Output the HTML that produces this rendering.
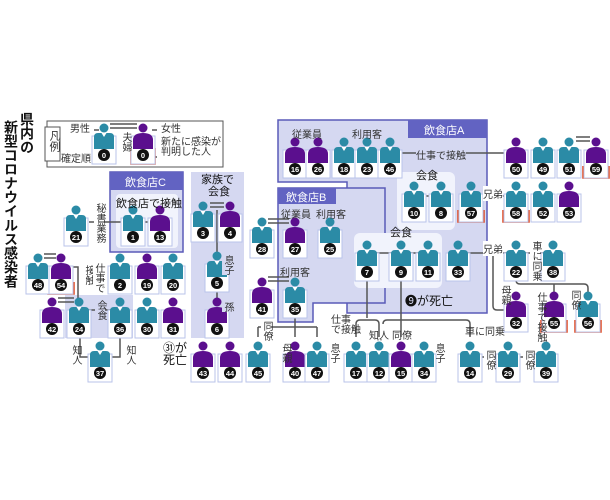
<!DOCTYPE html>
<html><head><meta charset="utf-8"><style>
body{margin:0;width:610px;height:500px;background:#fff;overflow:hidden;position:relative;font-family:"Liberation Sans","Noto Sans CJK JP",sans-serif;}
svg{position:absolute;left:0;top:0}
.v{position:absolute;writing-mode:vertical-rl;font-size:10px;line-height:10px;color:#333;background:transparent}
.t{position:absolute;font-size:10px;color:#333;white-space:nowrap}
.w{background:#fff}
.l{background:#d5d8f1}
</style></head><body>
<svg width="610" height="500" viewBox="0 0 610 500">
<defs>
<g id="m"><rect x="-12" y="8" width="24" height="28" fill="#fff" stroke="#b9c3ea"/><circle r="4.5" fill="#2b8ba6"/><path d="M-10 21V9Q-10 5-6 5H6Q10 5 10 9V21Z" fill="#2b8ba6"/><path d="M-2.5 5L0 9L2.5 5Z" fill="#fff"/><circle cy="27" r="6" fill="#111"/></g>
<g id="f"><rect x="-12" y="8" width="24" height="28" fill="#fff" stroke="#b9c3ea"/><circle r="4.5" fill="#5b0f8e"/><path d="M-10 21V12Q-10 5 0 5Q10 5 10 12V21Z" fill="#5b0f8e"/><circle cy="27" r="6" fill="#111"/></g>
</defs>
<rect x="47" y="121" width="176" height="46" fill="#fff" stroke="#555"/>
<rect x="45" y="127" width="15" height="34" fill="#fff" stroke="#555"/>
<polygon points="278,120 487,120 487,313 347,313 347,182 278,182" fill="#d5d8f1" stroke="#5a5ab8" stroke-width="1.5"/>
<polygon points="278,188 385,188 385,303 313,303 313,322 278,322" fill="#d5d8f1" stroke="#5a5ab8" stroke-width="1.5"/>
<rect x="408" y="120" width="79" height="18" fill="#6263c2"/>
<rect x="278" y="188" width="58" height="16" fill="#6263c2"/>
<rect x="397" y="172" width="58" height="58" rx="6" fill="#f1f3fc"/>
<rect x="354" y="233" width="88" height="55" rx="6" fill="#f1f3fc"/>
<rect x="110" y="172" width="73" height="80" fill="#d5d8f1" stroke="#5a5ab8" stroke-width="1.5"/>
<rect x="110" y="172" width="73" height="18" fill="#6263c2"/>
<rect x="116" y="194" width="62" height="54" rx="4" fill="#f1f3fc"/>
<rect x="191" y="172" width="53" height="166" fill="#d5d8f1"/>
<rect x="65" y="295" width="68" height="43" fill="#d5d8f1"/>
<g stroke="#555" stroke-width="1.5" fill="none">
<path d="M110 124H137M110 128H137"/>
<path d="M94 130H99M94 157H99M152 130H157M152 157H157"/>
<path d="M89 222H160"/>
<path d="M210 203H224M210 207H224M217 210V252M217 286V298"/>
<path d="M268 219H289M268 223H289M268 277H289M268 281H289"/>
<path d="M44 254H56M44 258H56M58 298H74M58 302H74"/>
<path d="M70 267H78V300M86 310H113"/>
<path d="M80 338V357H90M120 338V357H110"/>
<path d="M295 318V327M258 327H317M258 327V337M317 327V337M295 327V337"/>
<path d="M367 272V318M401 272V337M356 337V324Q356 320 360 320H375Q379 320 379 324V337M383 324Q383 320 387 320H466Q470 320 470 324V337"/>
<path d="M408 357H417M480 357H500M518 357H538"/>
<path d="M374 253H422M468 253H510M525 253H546"/>
<path d="M493 253V306Q493 310 497 310H508"/>
<path d="M516 275V280Q516 284 520 284H584Q588 284 588 288V292M554 284V292"/>
<path d="M421 196H434M478 196H510"/>
<path d="M398 153H510M576 137H590M576 141H590"/>
</g>
<path d="M378 339V343M381 339V343" stroke="#555" stroke-width="1" stroke-dasharray="1.5,1.5"/>
<g stroke="#e2481f" stroke-width="1.5" fill="none">
<path d="M131 148V164H155V148"/>
<path d="M583 166V178H609V166"/>
<path d="M458 210V222H484V210"/>
<path d="M503 210V222H529V210"/>
<path d="M48 282V294H74V282"/>
<path d="M541 320V332H567V320"/>
<path d="M575 320V332H601V320"/>
</g>
<g>
<use href="#m" x="104" y="128"/><use href="#f" x="143" y="128"/>
<use href="#f" x="295" y="142"/><use href="#f" x="318" y="142"/><use href="#m" x="344" y="142"/><use href="#m" x="367" y="142"/><use href="#m" x="390" y="142"/>
<use href="#f" x="516" y="142"/><use href="#m" x="543" y="142"/><use href="#m" x="569" y="142"/><use href="#f" x="596" y="142"/>
<use href="#m" x="414" y="186"/><use href="#m" x="441" y="186"/><use href="#m" x="471" y="186"/><use href="#m" x="516" y="186"/><use href="#m" x="543" y="186"/><use href="#f" x="569" y="186"/>
<use href="#m" x="76" y="210"/><use href="#m" x="133" y="210"/><use href="#f" x="160" y="210"/><use href="#m" x="203" y="206"/><use href="#f" x="230" y="206"/>
<use href="#m" x="262" y="222"/><use href="#f" x="295" y="222"/><use href="#m" x="330" y="222"/>
<use href="#m" x="367" y="245"/><use href="#m" x="401" y="245"/><use href="#m" x="428" y="245"/><use href="#m" x="458" y="245"/><use href="#m" x="516" y="245"/><use href="#m" x="553" y="245"/>
<use href="#m" x="38" y="258"/><use href="#f" x="61" y="258"/><use href="#m" x="120" y="258"/><use href="#f" x="147" y="258"/><use href="#m" x="173" y="258"/><use href="#m" x="217" y="256"/>
<use href="#f" x="262" y="282"/><use href="#m" x="295" y="282"/>
<use href="#f" x="52" y="302"/><use href="#m" x="79" y="302"/><use href="#m" x="120" y="302"/><use href="#m" x="147" y="302"/><use href="#f" x="173" y="302"/><use href="#f" x="217" y="302"/>
<use href="#f" x="516" y="296"/><use href="#f" x="554" y="296"/><use href="#m" x="588" y="296"/>
<use href="#m" x="100" y="346"/>
<use href="#f" x="203" y="346"/><use href="#f" x="230" y="346"/><use href="#m" x="258" y="346"/><use href="#f" x="295" y="346"/><use href="#m" x="317" y="346"/><use href="#m" x="356" y="346"/><use href="#m" x="379" y="346"/><use href="#f" x="401" y="346"/><use href="#m" x="424" y="346"/><use href="#m" x="470" y="346"/><use href="#m" x="508" y="346"/><use href="#m" x="546" y="346"/>
</g>
<g fill="#fff" font-size="7.5" font-weight="bold" text-anchor="middle" font-family="Liberation Sans, sans-serif">
<text x="104" y="158">0</text><text x="143" y="158">0</text>
<text x="295" y="172">16</text><text x="318" y="172">26</text><text x="344" y="172">18</text><text x="367" y="172">23</text><text x="390" y="172">46</text>
<text x="516" y="172">50</text><text x="543" y="172">49</text><text x="569" y="172">51</text><text x="596" y="172">59</text>
<text x="414" y="216">10</text><text x="441" y="216">8</text><text x="471" y="216">57</text><text x="516" y="216">58</text><text x="543" y="216">52</text><text x="569" y="216">53</text>
<text x="76" y="240">21</text><text x="133" y="240">1</text><text x="160" y="240">13</text><text x="203" y="236">3</text><text x="230" y="236">4</text>
<text x="262" y="252">28</text><text x="295" y="252">27</text><text x="330" y="252">25</text>
<text x="367" y="275">7</text><text x="401" y="275">9</text><text x="428" y="275">11</text><text x="458" y="275">33</text><text x="516" y="275">22</text><text x="553" y="275">38</text>
<text x="38" y="288">48</text><text x="61" y="288">54</text><text x="120" y="288">2</text><text x="147" y="288">19</text><text x="173" y="288">20</text><text x="217" y="286">5</text>
<text x="262" y="312">41</text><text x="295" y="312">35</text>
<text x="52" y="332">42</text><text x="79" y="332">24</text><text x="120" y="332">36</text><text x="147" y="332">30</text><text x="173" y="332">31</text><text x="217" y="332">6</text>
<text x="516" y="326">32</text><text x="554" y="326">55</text><text x="588" y="326">56</text>
<text x="100" y="376">37</text>
<text x="203" y="376">43</text><text x="230" y="376">44</text><text x="258" y="376">45</text><text x="295" y="376">40</text><text x="317" y="376">47</text><text x="356" y="376">17</text><text x="379" y="376">12</text><text x="401" y="376">15</text><text x="424" y="376">34</text><text x="470" y="376">14</text><text x="508" y="376">29</text><text x="546" y="376">39</text>
</g>
</svg>
<div class="v" style="left:3px;top:120px;font-size:14px;line-height:16px;font-weight:bold;color:#111">新型コロナウイルス感染者</div>
<div class="v" style="left:19px;top:112px;font-size:14px;line-height:16px;font-weight:bold;color:#111">県内の</div>
<div class="v" style="left:48px;top:130px;font-size:11px;line-height:11px">凡例</div>
<div class="t" style="left:70px;top:120px">男性</div>
<div class="t" style="left:61px;top:150px">確定順</div>
<div class="v" style="left:120px;top:132px">夫婦</div>
<div class="t" style="left:161px;top:120px">女性</div>
<div class="t" style="left:161px;top:138px;line-height:10px">新たに感染が<br>判明した人</div>
<div class="t" style="left:424px;top:122px;color:#fff;font-size:11px">飲食店A</div>
<div class="t" style="left:286px;top:189px;color:#fff;font-size:11px">飲食店B</div>
<div class="t" style="left:125px;top:174px;color:#fff;font-size:11px">飲食店C</div>
<div class="t" style="left:116px;top:195px;font-size:11px;color:#111">飲食店で接触</div>
<div class="t" style="left:201px;top:174px;font-size:11px;line-height:12px;color:#111;text-align:center">家族で<br>&nbsp;会食</div>
<div class="t" style="left:292px;top:126px">従業員</div>
<div class="t" style="left:352px;top:126px">利用客</div>
<div class="t" style="left:281px;top:206px">従業員</div>
<div class="t" style="left:316px;top:206px">利用客</div>
<div class="t" style="left:280px;top:264px">利用客</div>
<div class="t" style="left:416px;top:167px;font-size:11px;color:#111">会食</div>
<div class="t" style="left:390px;top:224px;font-size:11px;color:#111">会食</div>
<div class="t l" style="left:416px;top:147px">仕事で接触</div>
<div class="t w" style="left:483px;top:186px">兄弟</div>
<div class="t w" style="left:483px;top:241px">兄弟</div>
<div class="t" style="left:405px;top:292px;font-size:12px;color:#111">❾が死亡</div>
<div class="t" style="left:163px;top:342px;font-size:12px;line-height:12px;color:#111">㉛が<br>死亡</div>
<div class="v w" style="left:94px;top:203px">秘書業務</div>
<div class="v l" style="left:222px;top:255px">息子</div>
<div class="v l" style="left:222px;top:302px">孫</div>
<div class="v w" style="left:83px;top:265px">接触</div>
<div class="v w" style="left:93px;top:263px">仕事で</div>
<div class="v l" style="left:95px;top:300px">会食</div>
<div class="v" style="left:70px;top:345px">知人</div>
<div class="v" style="left:124px;top:345px">知人</div>
<div class="v w" style="left:261px;top:321px">同僚</div>
<div class="v" style="left:280px;top:343px">母親</div>
<div class="v" style="left:328px;top:343px">息子</div>
<div class="t" style="left:331px;top:316px;line-height:10px">仕事<br>で接触</div>
<div class="t" style="left:369px;top:327px">知人</div>
<div class="t" style="left:392px;top:327px">同僚</div>
<div class="t" style="left:465px;top:323px">車に同乗</div>
<div class="v" style="left:433px;top:343px">息子</div>
<div class="v w" style="left:484px;top:350px">同僚</div>
<div class="v w" style="left:523px;top:350px">同僚</div>
<div class="v w" style="left:530px;top:241px">車に同乗</div>
<div class="v" style="left:499px;top:285px">母親</div>
<div class="v" style="left:535px;top:292px">仕事で接触</div>
<div class="v" style="left:569px;top:290px">同僚</div>
</body></html>
